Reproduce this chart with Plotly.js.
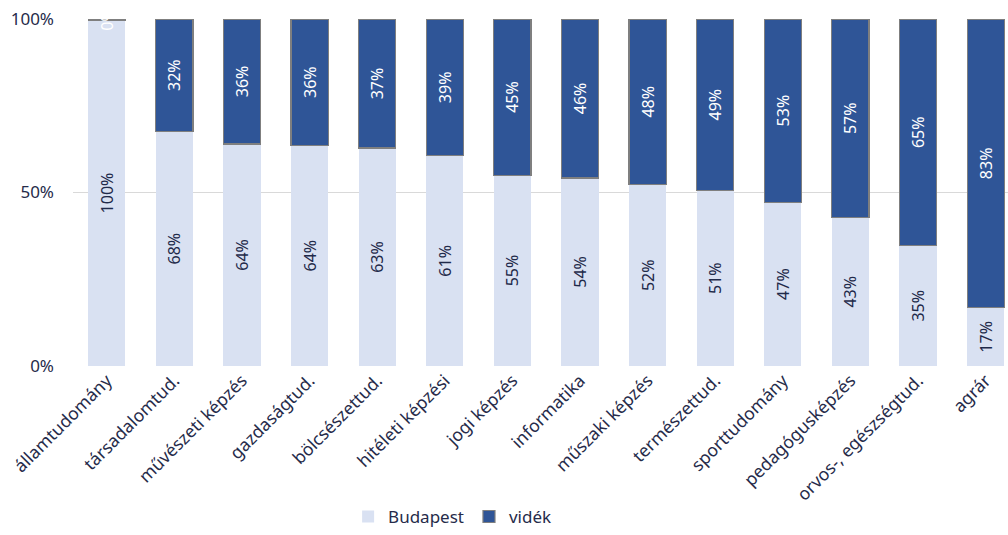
<!DOCTYPE html>
<html>
<head>
<meta charset="utf-8">
<script src="https://cdn.plot.ly/plotly-3.0.1.min.js"></script>
<style>html,body{margin:0;padding:0;background:#fff;}#chart{width:1008px;height:535px;}</style>
</head>
<body>
<div id="chart"></div>
<script>
const categories = ["államtudomány","társadalomtud.","művészeti képzés","gazdaságtud.","bölcsészettud.","hitéleti képzési","jogi képzés","informatika","műszaki képzés","természettud.","sporttudomány","pedagógusképzés","orvos-, egészségtud.","agrár"];
const budapest = [99.7, 67.6, 64, 63.6, 62.8, 60.6, 55, 54.2, 52.3, 50.6, 47.2, 42.8, 34.7, 16.8];
const videk    = [0.3, 32.4, 36, 36.4, 37.2, 39.4, 45, 45.8, 47.7, 49.4, 52.8, 57.2, 65.3, 83.2];
const yTicks = [0, 50, 100];

const fontFam = "'Noto Sans', 'Open Sans', sans-serif";
const fmt = v => Math.round(v) + "%";

const traces = [
  {
    type: "bar", name: "Budapest", x: categories, y: budapest,
    text: budapest.map(fmt), textposition: "inside", insidetextanchor: "middle",
    textangle: -90, textfont: {family: fontFam, size: 16, color: "#1f2a4a"},
    marker: {color: "#d9e1f2", line: {width: 0}},
    hoverinfo: "skip", cliponaxis: false
  },
  {
    type: "bar", name: "vidék", x: categories, y: videk,
    text: videk.map(fmt), textposition: "inside", insidetextanchor: "middle",
    textangle: -90, textfont: {family: fontFam, size: 16, color: "#ffffff"},
    marker: {color: "#2f5597", line: {width: 1.2, color: "#7f7f7f"}},
    hoverinfo: "skip", cliponaxis: false
  }
];

const layout = {
  width: 1008, height: 535,
  margin: {l: 73, r: 0, t: 19, b: 164},
  barmode: "stack", bargap: 0.45,
  paper_bgcolor: "#ffffff", plot_bgcolor: "#ffffff",
  font: {family: fontFam, size: 17, color: "#262b4a"},
  uniformtext: {minsize: 16, mode: "show"},
  xaxis: {
    range: [-0.5, 13.33], tickangle: -45, showgrid: false, zeroline: false,
    showline: false, ticks: "", tickfont: {family: fontFam, size: 17.5, color: "#262b4a"}, fixedrange: true
  },
  yaxis: {
    range: [0, 100], tickvals: yTicks, ticktext: yTicks.map(v => v + "%"),
    showgrid: true, gridcolor: "#d9d9d9", gridwidth: 1.3, zeroline: false, showline: false,
    ticks: "", ticklabelstandoff: 18, tickfont: {family: fontFam, size: 17, color: "#262b4a"}, fixedrange: true
  },
  showlegend: true,
  legend: {
    orientation: "h", x: 0.406, xanchor: "center", y: -0.435, yanchor: "middle",
    font: {family: fontFam, size: 17, color: "#262b4a"}, traceorder: "normal",
    itemwidth: 30, bgcolor: "rgba(0,0,0,0)"
  }
};

Plotly.newPlot("chart", traces, layout, {displayModeBar: false, staticPlot: true});
</script>
</body>
</html>
